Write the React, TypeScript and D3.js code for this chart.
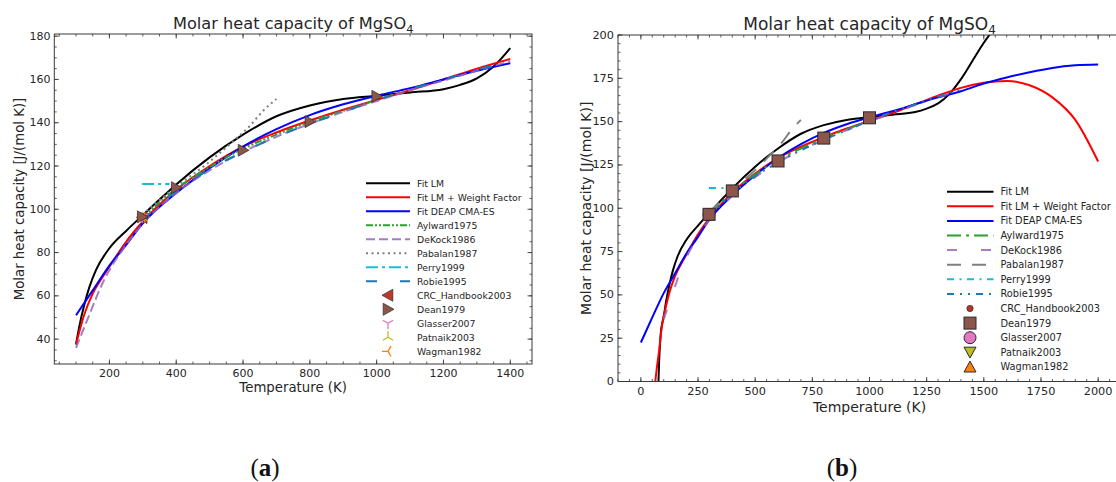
import React from 'react';
import * as d3 from 'd3';

type Pt = [number, number];

// ---------- data: [Temperature (K), Cp (J/(mol K))] ----------
const fitLM: Pt[] = [
  [77, 0], [80, 12], [84, 22], [88, 29], [94, 34], [100, 37.5], [110, 46], [125, 56], [140, 64],
  [160, 72], [200, 82], [250, 90], [298, 97], [350, 104.5], [400, 111.5], [500, 124], [600, 134.5],
  [700, 143], [800, 148], [900, 151], [1000, 152.5], [1100, 154], [1200, 155.5], [1250, 157.5],
  [1300, 160.5], [1350, 166], [1400, 174.5], [1450, 185], [1500, 195.5], [1535, 202],
];
const fitLMWeight: Pt[] = [
  [63, 0], [70, 8], [80, 18], [90, 30], [100, 37.5], [124, 51], [150, 61], [183, 69.5], [200, 73.5],
  [250, 85], [298, 94], [400, 109], [500, 120], [600, 129], [700, 135.5], [800, 141], [900, 146],
  [1000, 150.5], [1100, 155], [1200, 160], [1300, 165], [1400, 169.5], [1500, 172.5], [1600, 173.5],
  [1700, 171], [1800, 164], [1900, 151], [2000, 127],
];
const fitDEAP: Pt[] = [
  [0, 22.5], [50, 37], [100, 51], [150, 62.5], [200, 74], [250, 83.5], [300, 93.5], [400, 107.5],
  [500, 119], [600, 129], [700, 137], [800, 143.5], [900, 148.5], [1000, 152.5], [1100, 156],
  [1200, 160], [1300, 164], [1400, 167.5], [1500, 172], [1600, 175.5], [1700, 178.5], [1800, 181],
  [1900, 182.5], [2000, 183],
];
const aylward1975: Pt[] = [
  [298, 96], [400, 109.5], [500, 119.5], [600, 128], [700, 134.5], [800, 140.5], [900, 145.5], [1000, 150.5],
];
const dekock1986: Pt[] = [
  [100, 36], [134, 49], [183, 67], [250, 83.5], [298, 93], [400, 107.5], [500, 118], [600, 126.5],
  [700, 133.5], [800, 139.5], [900, 145], [1000, 150], [1100, 155], [1200, 159.5], [1300, 164], [1400, 168.5],
];
const pabalan1987: Pt[] = [
  [298, 97.5], [400, 110.5], [500, 122], [571, 131.5], [620, 138.5], [660, 145.5], [700, 151],
];
const perry1999: Pt[] = [[298, 111.7], [380, 111.7]];
const robie1995: Pt[] = [
  [298, 95], [400, 108.5], [500, 118.5], [600, 126.5], [700, 133.5], [800, 139.5], [900, 145],
  [1000, 150.5], [1100, 155.5], [1200, 160], [1300, 164.5], [1400, 168.5],
];
const crc2003: Pt[] = [[298.15, 96.2]];
const dean1979: Pt[] = [[298.15, 96.5], [400, 110], [600, 127.3], [800, 140.5], [1000, 152.2]];
const glasser2007: Pt[] = [[298.15, 96.4]];
const patnaik2003: Pt[] = [[298.15, 96.1]];
const wagman1982: Pt[] = [[298.15, 96.3]];

const lineNames = ['Fit LM', 'Fit LM + Weight Factor', 'Fit DEAP CMA-ES', 'Aylward1975', 'DeKock1986', 'Pabalan1987', 'Perry1999', 'Robie1995'];
const lineData = [fitLM, fitLMWeight, fitDEAP, aylward1975, dekock1986, pabalan1987, perry1999, robie1995];
const markerNames = ['CRC_Handbook2003', 'Dean1979', 'Glasser2007', 'Patnaik2003', 'Wagman1982'];
const markerData = [crc2003, dean1979, glasser2007, patnaik2003, wagman1982];

const xTicksA = [200, 400, 600, 800, 1000, 1200, 1400];
const yTicksA = [40, 60, 80, 100, 120, 140, 160, 180];
const xTicksB = [0, 250, 500, 750, 1000, 1250, 1500, 1750, 2000];
const yTicksB = [0, 25, 50, 75, 100, 125, 150, 175, 200];

// ---------- styles ----------
const lineColors = ['#000000', '#ff0000', '#0000ff', '#2ca02c', '#9467bd', '#7f7f7f', '#17becf', '#1f77b4'];
const dashA = ['', '', '', '7,2,2,2,2,2', '9,4', '2,3.5', '12,4,3,4', '11,23'];
const dashB = ['', '', '', '14,5,3,5', '10,24', '14,11', '7,5.5,2,5.5', '7,6,2,6,2,6'];
const markerA = [
  { kind: 'tl', fill: '#c0392b', r: 6 },
  { kind: 'tr', fill: '#8c564b', r: 6 },
  { kind: 'y1', fill: '#e377c2', r: 6 },
  { kind: 'y2', fill: '#bcbd22', r: 6 },
  { kind: 'y3', fill: '#ff7f0e', r: 6 },
];
const markerB = [
  { kind: 'o', fill: '#c0302a', r: 3.2 },
  { kind: 's', fill: '#8c564b', r: 6 },
  { kind: 'o', fill: '#e377c2', r: 6 },
  { kind: 'v', fill: '#bcbd22', r: 6 },
  { kind: '^', fill: '#ff7f0e', r: 6 },
];

function Marker({ kind, fill, r, cx, cy }: { kind: string; fill: string; r: number; cx: number; cy: number }) {
  const s = '#2a2a2a';
  if (kind === 'tl') return <path d={`M${cx - r},${cy} L${cx + r * 0.8},${cy - r} L${cx + r * 0.8},${cy + r} Z`} fill={fill} stroke={s} strokeWidth={0.7} />;
  if (kind === 'tr') return <path d={`M${cx + r},${cy} L${cx - r * 0.8},${cy - r} L${cx - r * 0.8},${cy + r} Z`} fill={fill} stroke={s} strokeWidth={0.7} />;
  if (kind === 'y1' || kind === 'y2' || kind === 'y3') {
    const angles = kind === 'y1' ? [90, 210, 330] : kind === 'y2' ? [270, 30, 150] : [180, 300, 60];
    const d = angles.map(a => {
      const t = (a * Math.PI) / 180;
      return `M${cx},${cy} L${cx + r * Math.cos(t)},${cy + r * Math.sin(t)}`;
    }).join(' ');
    return <path d={d} stroke={fill} strokeWidth={1.3} fill="none" />;
  }
  if (kind === 'o') return <circle cx={cx} cy={cy} r={r} fill={fill} stroke={s} strokeWidth={r > 4 ? 1 : 0.6} />;
  if (kind === 's') return <rect x={cx - r} y={cy - r} width={2 * r} height={2 * r} fill={fill} stroke={s} strokeWidth={1} />;
  if (kind === 'v') return <path d={`M${cx - r},${cy - r * 0.85} L${cx + r},${cy - r * 0.85} L${cx},${cy + r * 0.95} Z`} fill={fill} stroke={s} strokeWidth={1} />;
  return <path d={`M${cx - r},${cy + r * 0.85} L${cx + r},${cy + r * 0.85} L${cx},${cy - r * 0.95} Z`} fill={fill} stroke={s} strokeWidth={1} />;
}

type Cfg = {
  id: string; left: number; right: number; top: number; bottom: number;
  xDomain: [number, number]; yDomain: [number, number]; tRange: [number, number];
  xTicks: number[]; yTicks: number[]; xMinor: number; yMinor: number;
  dash: string[]; markers: typeof markerA; tickFont: number; labelFont: number; titleFont: number;
  xLabelY: number; yLabelX: number; titleY: number; xTickY: number; yTickX: number;
  leg: { x0: number; x1: number; tx: number; y0: number; dy: number; font: number; mx: number };
  caption: string; capX: number;
};

const font = 'DejaVu Sans, sans-serif';

function Panel({ c }: { c: Cfg }) {
  const x = d3.scaleLinear().domain(c.xDomain).range([c.left, c.right]);
  const y = d3.scaleLinear().domain(c.yDomain).range([c.bottom, c.top]);
  const line = d3.line<Pt>().x(d => x(d[0])).y(d => y(d[1])).curve(d3.curveMonotoneX);
  const inRange = (d: Pt) => d[0] >= c.tRange[0] && d[0] <= c.tRange[1];
  const xMinorTicks = d3.range(Math.ceil(c.xDomain[0] / c.xMinor) * c.xMinor, c.xDomain[1], c.xMinor);
  const yMinorTicks = d3.range(Math.ceil(c.yDomain[0] / c.yMinor) * c.yMinor, c.yDomain[1] + 0.001, c.yMinor);
  const axisCol = '#3a3a3a';
  const textCol = '#262626';
  const ML = 4.5, mL = 2.5;
  return (
    <g>
      <defs>
        <clipPath id={`clip-${c.id}`}>
          <rect x={c.left} y={c.top} width={c.right - c.left} height={c.bottom - c.top} />
        </clipPath>
      </defs>
      <g clipPath={`url(#clip-${c.id})`}>
        {lineData.map((data, i) => (
          <path key={i} d={line(data.filter(inRange)) || ''} fill="none" stroke={lineColors[i]}
            strokeWidth={2} strokeDasharray={c.dash[i] || undefined} opacity={i === 4 ? 0.85 : 1} />
        ))}
        {[0, 2, 3, 4, 1].map(i => (
          <g key={i}>
            {markerData[i].map((d, j) => (
              <Marker key={j} {...c.markers[i]} cx={x(d[0])} cy={y(d[1])} />
            ))}
          </g>
        ))}
      </g>
      {/* frame */}
      <rect x={c.left} y={c.top} width={c.right - c.left} height={c.bottom - c.top} fill="none" stroke={axisCol} strokeWidth={1} />
      {/* minor ticks */}
      {xMinorTicks.map((t, i) => (
        <g key={`xm${i}`} stroke={axisCol} strokeWidth={0.8}>
          <line x1={x(t)} x2={x(t)} y1={c.bottom} y2={c.bottom - mL} />
          <line x1={x(t)} x2={x(t)} y1={c.top} y2={c.top + mL} />
        </g>
      ))}
      {yMinorTicks.map((t, i) => (
        <g key={`ym${i}`} stroke={axisCol} strokeWidth={0.8}>
          <line y1={y(t)} y2={y(t)} x1={c.left} x2={c.left + mL} />
          <line y1={y(t)} y2={y(t)} x1={c.right} x2={c.right - mL} />
        </g>
      ))}
      {c.xTicks.map(t => (
        <g key={`x${t}`}>
          <line x1={x(t)} x2={x(t)} y1={c.bottom} y2={c.bottom - ML} stroke={axisCol} strokeWidth={0.9} />
          <line x1={x(t)} x2={x(t)} y1={c.top} y2={c.top + ML} stroke={axisCol} strokeWidth={0.9} />
          <text x={x(t)} y={c.xTickY} textAnchor="middle" fontFamily={font} fontSize={c.tickFont} fill={textCol}>{t}</text>
        </g>
      ))}
      {c.yTicks.map(t => (
        <g key={`y${t}`}>
          <line y1={y(t)} y2={y(t)} x1={c.left} x2={c.left + ML} stroke={axisCol} strokeWidth={0.9} />
          <line y1={y(t)} y2={y(t)} x1={c.right} x2={c.right - ML} stroke={axisCol} strokeWidth={0.9} />
          <text x={c.yTickX} y={y(t)} textAnchor="end" dominantBaseline="central" fontFamily={font} fontSize={c.tickFont} fill={textCol}>{t}</text>
        </g>
      ))}
      {/* title */}
      <text x={(c.left + c.right) / 2} y={c.titleY} textAnchor="middle" fontFamily={font} fontSize={c.titleFont} fill={textCol}>
        Molar heat capacity of MgSO<tspan fontSize={c.titleFont * 0.7} dy={c.titleFont * 0.22}>4</tspan>
      </text>
      <text x={(c.left + c.right) / 2} y={c.xLabelY} textAnchor="middle" fontFamily={font} fontSize={c.labelFont} fill={textCol}>Temperature (K)</text>
      <text transform={`translate(${c.yLabelX},${(c.top + c.bottom) / 2}) rotate(-90)`} textAnchor="middle" dominantBaseline="central"
        fontFamily={font} fontSize={c.labelFont} fill={textCol}>Molar heat capacity [J/(mol K)]</text>
      {/* legend */}
      {lineNames.map((n, i) => {
        const ly = c.leg.y0 + i * c.leg.dy;
        return (
          <g key={n}>
            <line x1={c.leg.x0} x2={c.leg.x1} y1={ly} y2={ly} stroke={lineColors[i]} strokeWidth={2}
              strokeDasharray={c.dash[i] || undefined} opacity={i === 4 ? 0.85 : 1} />
            <text x={c.leg.tx} y={ly} dominantBaseline="central" fontFamily={font} fontSize={c.leg.font} fill={textCol}>{n}</text>
          </g>
        );
      })}
      {markerNames.map((n, i) => {
        const ly = c.leg.y0 + (i + lineNames.length) * c.leg.dy;
        return (
          <g key={n}>
            <Marker {...c.markers[i]} cx={c.leg.mx} cy={ly} />
            <text x={c.leg.tx} y={ly} dominantBaseline="central" fontFamily={font} fontSize={c.leg.font} fill={textCol}>{n}</text>
          </g>
        );
      })}
      <text x={c.capX} y={476} textAnchor="middle" fontFamily="Liberation Serif, serif" fontSize={25} fill="#111">
        (<tspan fontWeight="bold">{c.caption}</tspan>)
      </text>
    </g>
  );
}

const cfgA: Cfg = {
  id: 'a', left: 54.3, right: 532, top: 34, bottom: 364,
  xDomain: [35, 1465], yDomain: [28.5, 181], tRange: [100, 1400],
  xTicks: xTicksA, yTicks: yTicksA, xMinor: 50, yMinor: 5,
  dash: dashA, markers: markerA, tickFont: 11, labelFont: 13.3, titleFont: 16.2,
  xLabelY: 392, yLabelX: 19, titleY: 29, xTickY: 377, yTickX: 50.5,
  leg: { x0: 366, x1: 410, tx: 417, y0: 183.3, dy: 14.0, font: 9.3, mx: 388 },
  caption: 'a', capX: 265,
};
const cfgB: Cfg = {
  id: 'b', left: 618, right: 1121, top: 35, bottom: 381.5,
  xDomain: [-100, 2100], yDomain: [0, 200], tRange: [0, 2000],
  xTicks: xTicksB, yTicks: yTicksB, xMinor: 50, yMinor: 5,
  dash: dashB, markers: markerB, tickFont: 11.3, labelFont: 14, titleFont: 17,
  xLabelY: 411.5, yLabelX: 586, titleY: 30, xTickY: 395, yTickX: 614,
  leg: { x0: 947, x1: 993.5, tx: 1000.5, y0: 191.7, dy: 14.6, font: 9.8, mx: 970 },
  caption: 'b', capX: 842,
};

export default function App() {
  return (
    <svg width={1116} height={482} style={{ position: 'absolute', left: 0, top: 0, background: '#fff' }}>
      <rect width={1116} height={482} fill="#fff" />
      <Panel c={cfgA} />
      <Panel c={cfgB} />
    </svg>
  );
}
